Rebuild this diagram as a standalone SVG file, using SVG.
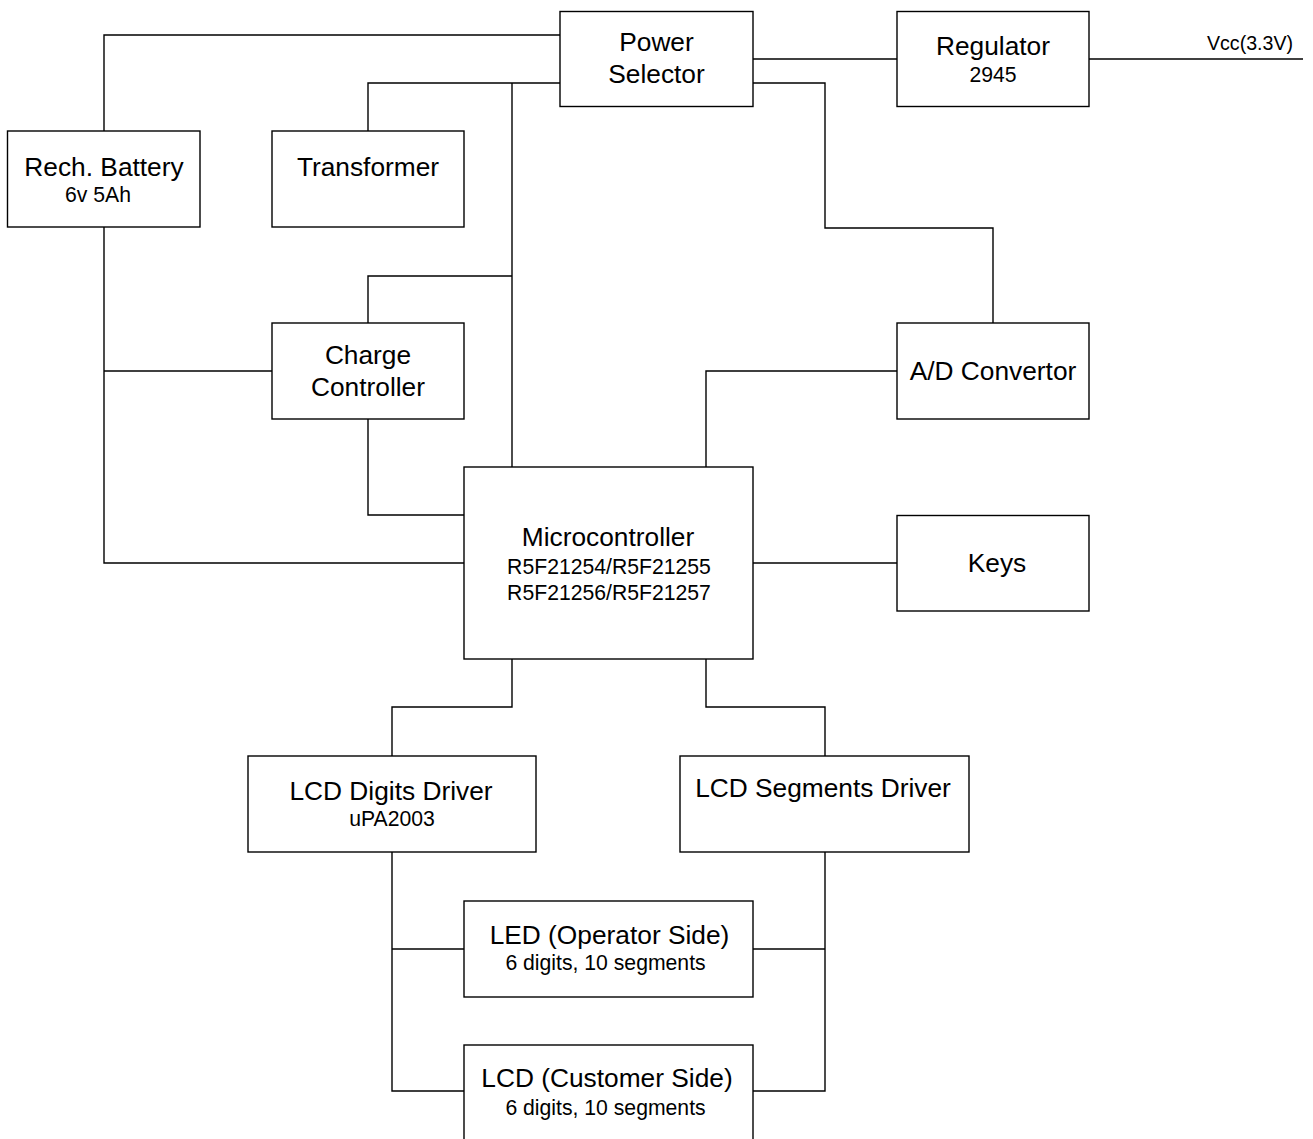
<svg xmlns="http://www.w3.org/2000/svg" width="1313" height="1139" viewBox="0 0 1313 1139">
<style>
.box{fill:#fff;stroke:#000;stroke-width:1.4}
.w{fill:none;stroke:#000;stroke-width:1.4}
text{font-family:"Liberation Sans",Arial,sans-serif;fill:#000;text-anchor:middle}
.m{font-size:26.3px}
.s{font-size:21.2px}
</style>
<rect width="1313" height="1139" fill="#fff"/>
<g id="connectors" class="w">
<polyline points="560,35 104,35 104,131"/>
<line x1="753" y1="59" x2="897" y2="59"/>
<line x1="1089" y1="59" x2="1303" y2="59"/>
<polyline points="560,83 368,83 368,131"/>
<line x1="512" y1="83" x2="512" y2="467"/>
<polyline points="512,276 368,276 368,323"/>
<polyline points="753,83 825,83 825,228 993,228 993,323"/>
<polyline points="104,227 104,563 464,563"/>
<line x1="104" y1="371" x2="272" y2="371"/>
<polyline points="368,419 368,515 464,515"/>
<polyline points="897,371 706,371 706,467"/>
<line x1="753" y1="563" x2="897" y2="563"/>
<polyline points="512,659 512,707 392,707 392,756"/>
<polyline points="706,659 706,707 825,707 825,756"/>
<polyline points="392,852 392,1091 464,1091"/>
<line x1="392" y1="949" x2="464" y2="949"/>
<polyline points="825,852 825,1091 753,1091"/>
<line x1="753" y1="949" x2="825" y2="949"/>
</g>
<text x="1250" y="50" style="font-size:19.6px">Vcc(3.3V)</text>
<g id="power-selector"><rect class="box" x="560" y="11.5" width="193" height="95"/><text class="m" x="656.5" y="51">Power</text><text class="m" x="656.5" y="83">Selector</text></g>
<g id="regulator"><rect class="box" x="897" y="11.5" width="192" height="95"/><text class="m" x="993" y="55">Regulator</text><text class="s" x="993" y="82">2945</text></g>
<g id="battery"><rect class="box" x="7.5" y="131" width="192.5" height="96"/><text class="m" x="104" y="176">Rech. Battery</text><text class="s" x="98" y="202">6v 5Ah</text></g>
<g id="transformer"><rect class="box" x="272" y="131" width="192" height="96"/><text class="m" x="368" y="176">Transformer</text></g>
<g id="charge-controller"><rect class="box" x="272" y="323" width="192" height="96"/><text class="m" x="368" y="364">Charge</text><text class="m" x="368" y="396">Controller</text></g>
<g id="ad-convertor"><rect class="box" x="897" y="323" width="192" height="96"/><text class="m" x="993" y="380">A/D Convertor</text></g>
<g id="microcontroller"><rect class="box" x="464" y="467" width="289" height="192"/><text class="m" x="608" y="546">Microcontroller</text><text class="s" x="609" y="574">R5F21254/R5F21255</text><text class="s" x="609" y="600">R5F21256/R5F21257</text></g>
<g id="keys"><rect class="box" x="897" y="515.5" width="192" height="95.5"/><text class="m" x="997" y="572">Keys</text></g>
<g id="lcd-digits-driver"><rect class="box" x="248" y="756" width="288" height="96"/><text class="m" x="391" y="800">LCD Digits Driver</text><text class="s" x="392" y="826">uPA2003</text></g>
<g id="lcd-segments-driver"><rect class="box" x="680" y="756" width="289" height="96"/><text class="m" x="823" y="797">LCD Segments Driver</text></g>
<g id="led-operator"><rect class="box" x="464" y="901" width="289" height="96"/><text class="m" x="609.5" y="944">LED (Operator Side)</text><text class="s" x="605.5" y="970">6 digits, 10 segments</text></g>
<g id="lcd-customer"><rect class="box" x="464" y="1045" width="289" height="96"/><text class="m" x="607" y="1087">LCD (Customer Side)</text><text class="s" x="605.5" y="1115">6 digits, 10 segments</text></g>
</svg>
